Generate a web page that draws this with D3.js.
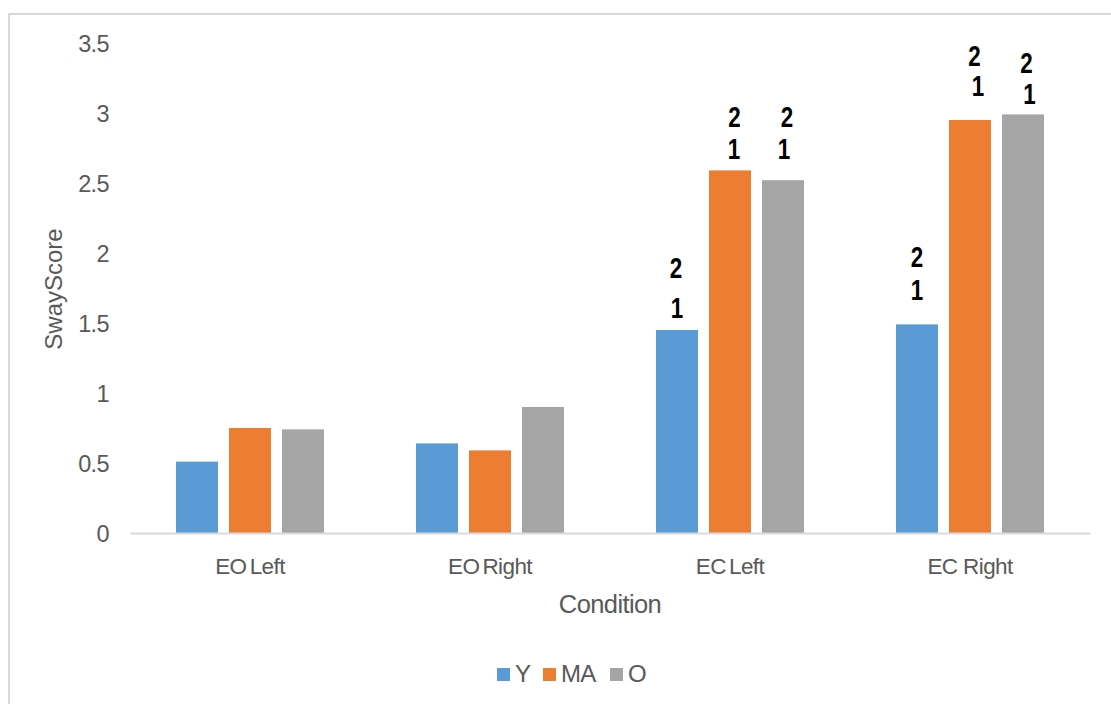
<!DOCTYPE html>
<html>
<head>
<meta charset="utf-8">
<script src="https://cdn.jsdelivr.net/npm/d3@7/dist/d3.min.js"></script>
<style>
  html, body { margin: 0; padding: 0; background: #ffffff; }
  svg { display: block; }
  text { font-family: "Liberation Sans", Arial, "Helvetica", sans-serif; }
</style>
</head>
<body>
<svg id="chart" width="1111" height="704"></svg>
<script>
// Sway score by condition and age group
const categories = ["EO Left", "EO Right", "EC Left", "EC Right"];
const seriesNames = ["Y", "MA", "O"];
const valuesY  = [0.51, 0.64, 1.45, 1.49];
const valuesMA = [0.75, 0.59, 2.59, 2.95];
const valuesO  = [0.74, 0.90, 2.52, 2.99];
const yTicks = [0, 0.5, 1, 1.5, 2, 2.5, 3, 3.5];
const yTickLabels = ["0", "0.5", "1", "1.5", "2", "2.5", "3", "3.5"];
const xTitle = "Condition";
const yTitle = "SwayScore";

// significance markers ("2" over "1") placed above selected bars
const markCats   = ["EC Left", "EC Left", "EC Left", "EC Right", "EC Right", "EC Right"];
const markSeries = ["Y", "MA", "O", "Y", "MA", "O"];
const markLines  = [["2", "1"], ["2", "1"], ["2", "1"], ["2", "1"], ["2", "1"], ["2", "1"]];

// hand-placed offsets of each marker's two lines from its bar's top centre (px)
const markOffsets = [
  { dx: [-1, 0], dy: [-63, -23] },
  { dx: [4.5, 4], dy: [-54, -21.5] },
  { dx: [4, 1], dy: [-64, -31.5] },
  { dx: [0, 0], dy: [-67.5, -34.5] },
  { dx: [4.5, 8], dy: [-65, -35] },
  { dx: [3.5, 6.5], dy: [-51.5, -21] }
];

const colors = { Y: "#5b9bd5", MA: "#ed7d31", O: "#a5a5a5" };
const valuesBySeries = { Y: valuesY, MA: valuesMA, O: valuesO };

const svg = d3.select("#chart");

// outer chart-area frame
svg.append("rect")
  .attr("x", 9).attr("y", 14)
  .attr("width", 1300).attr("height", 900)
  .attr("fill", "#ffffff")
  .attr("stroke", "#d9d9d9")
  .attr("stroke-width", 2);

const plot = { left: 130, right: 1090, top: 43, bottom: 533 };

const x0 = d3.scaleBand().domain(categories).range([plot.left, plot.right]).paddingInner(0).paddingOuter(0);
const x1 = d3.scaleBand().domain(seriesNames).range([46, x0.bandwidth() - 46]).paddingInner(0.208).paddingOuter(0);
const y = d3.scaleLinear().domain([0, 3.5]).range([plot.bottom, plot.top]);

// bars
const rows = categories.map((c, i) => ({
  cat: c,
  vals: seriesNames.map(s => ({ s, v: valuesBySeries[s][i] }))
}));

const groups = svg.append("g").selectAll("g")
  .data(rows).join("g")
  .attr("transform", d => `translate(${x0(d.cat)},0)`);

groups.selectAll("rect")
  .data(d => d.vals).join("rect")
  .attr("x", d => x1(d.s))
  .attr("width", x1.bandwidth())
  .attr("y", d => y(d.v))
  .attr("height", d => y(0) - y(d.v))
  .attr("fill", d => colors[d.s]);

// category axis line and labels
const xAxis = d3.axisBottom(x0).tickSize(0).tickPadding(0);
const gx = svg.append("g").attr("transform", `translate(0,${plot.bottom})`).call(xAxis);
gx.select(".domain").attr("stroke", "#d9d9d9").attr("stroke-width", 2);
gx.selectAll(".tick text")
  .attr("y", 41)
  .attr("dy", 0)
  .attr("fill", "#595959")
  .style("font-size", "22.5px")
  .style("letter-spacing", "-0.6px")
  .style("word-spacing", d => d === "EC Right" ? "0px" : "-2.5px")
  .attr("font-family", null);

// value axis labels (no line, no ticks)
const yAxis = d3.axisLeft(y).tickValues(yTicks)
  .tickFormat((d, i) => yTickLabels[i]).tickSize(0).tickPadding(21);
const gy = svg.append("g").attr("transform", `translate(${plot.left},0)`).call(yAxis);
gy.select(".domain").remove();
gy.selectAll(".tick text")
  .attr("dy", "0.36em")
  .attr("fill", "#595959")
  .style("font-size", "23.5px")
  .style("letter-spacing", "-0.6px")
  .attr("font-family", null);

// axis titles
svg.append("text")
  .attr("x", 610).attr("y", 613)
  .attr("text-anchor", "middle")
  .attr("fill", "#595959")
  .style("font-size", "25.5px")
  .style("letter-spacing", "-0.6px")
  .text(xTitle);

svg.append("text")
  .attr("transform", "translate(62,289) rotate(-90)")
  .attr("text-anchor", "middle")
  .attr("fill", "#595959")
  .style("font-size", "24px")
  .text(yTitle);

// significance markers
const markG = svg.append("g");
markCats.forEach((c, i) => {
  const s = markSeries[i];
  const ci = categories.indexOf(c);
  const cx = x0(c) + x1(s) + x1.bandwidth() / 2;
  const top = y(valuesBySeries[s][ci]);
  markLines[i].forEach((line, k) => {
    const cy = top + markOffsets[i].dy[k];
    markG.append("text")
      .attr("transform", `translate(${cx + markOffsets[i].dx[k]},${cy + 10.5}) scale(0.76,1)`)
      .attr("text-anchor", "middle")
      .attr("fill", "#000000")
      .style("font-size", "29.5px")
      .style("font-weight", "bold")
      .text(line);
  });
});

// legend
const legendItems = [
  { s: "Y", x: 497 },
  { s: "MA", x: 543 },
  { s: "O", x: 610 }
];
const lg = svg.append("g");
legendItems.forEach(it => {
  lg.append("rect")
    .attr("x", it.x).attr("y", 668)
    .attr("width", 13).attr("height", 13)
    .attr("fill", colors[it.s]);
  lg.append("text")
    .attr("x", it.x + 18).attr("y", 682)
    .attr("fill", "#595959")
    .style("font-size", "24px")
    .style("letter-spacing", "-0.8px")
    .text(it.s);
});
</script>
</body>
</html>
